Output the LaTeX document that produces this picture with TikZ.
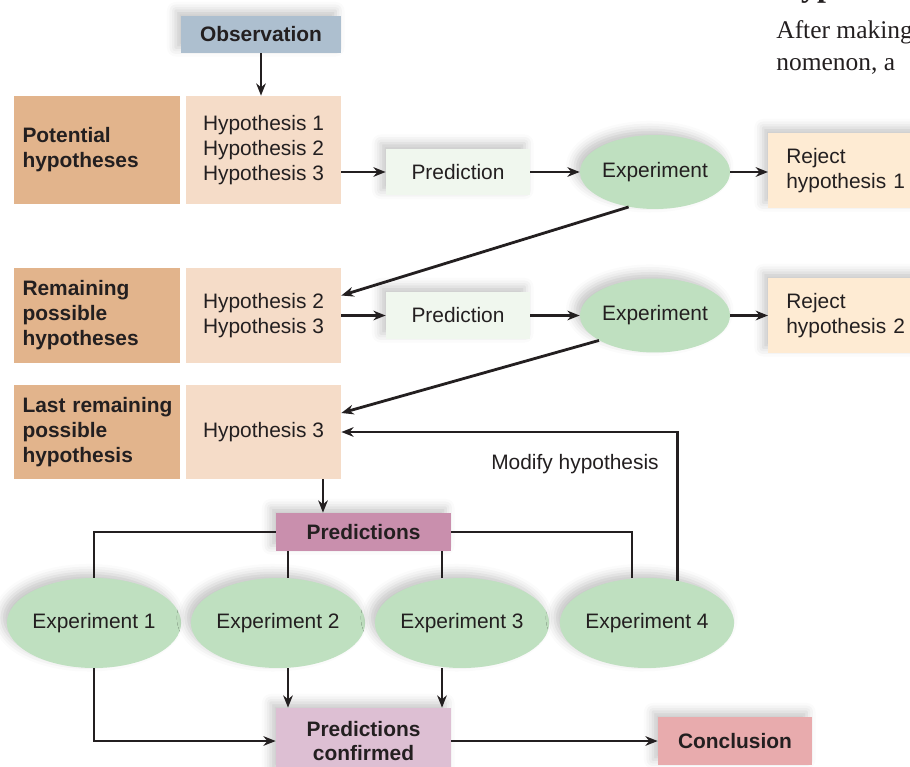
\documentclass[tikz,border=0pt]{standalone}
\usepackage{fontspec}
\setmainfont{Liberation Sans}
\newfontfamily\bookfont{Liberation Serif}
\usetikzlibrary{arrows.meta,shapes.geometric,shadows.blur,fit,backgrounds}

\definecolor{obsblue}{RGB}{173,191,207}
\definecolor{hyptan}{RGB}{226,180,140}
\definecolor{hyplight}{RGB}{245,220,200}
\definecolor{predgreen}{RGB}{240,247,238}
\definecolor{expgreen}{RGB}{191,224,192}
\definecolor{rejcream}{RGB}{254,235,211}
\definecolor{predpink}{RGB}{201,143,173}
\definecolor{confpink}{RGB}{221,191,211}
\definecolor{conclred}{RGB}{232,171,173}
\definecolor{ink}{RGB}{35,31,32}

\begin{document}
\begin{tikzpicture}[x=0.02cm,y=-0.02cm,
  every node/.style={font=\fontsize{11.9}{14.2}\selectfont,text=ink},
  shade/.style={blur shadow={shadow xshift=-3pt,shadow yshift=3pt,shadow blur radius=5pt,shadow opacity=22}},
  box/.style={rectangle,inner sep=0pt},
  heading/.style={box,font=\fontsize{11.9}{14.2}\selectfont\bfseries},
  stage/.style={heading,fill=hyptan,minimum width=3.32cm,text width=2.98cm,inner xsep=0.17cm,align=left},
  hyps/.style={box,fill=hyplight,minimum width=3.1cm,align=left},
  pair/.style={box,fill=white,shade},
  pred/.style={box,shade,fill=predgreen,minimum width=2.88cm,minimum height=0.94cm},
  trial/.style={ellipse,inner sep=0pt,fill=expgreen,shade},
  verdict/.style={box,shade,fill=rejcream,anchor=west,minimum height=1.5cm,text width=2.4cm,inner xsep=0.36cm,align=left},
  arrow/.style={-{Stealth[length=7pt,width=5.5pt]},line width=1.6pt,draw=ink},
  link/.style={line width=1.6pt,draw=ink}
]
  \useasboundingbox (0,0) rectangle (910,767);
  \clip (0,0) rectangle (910,767);

  \node[anchor=base west,inner sep=0pt,font=\bookfont\bfseries\fontsize{18.2}{20}\selectfont] (head) at (776,-3) {Hypothesis};
  \node[anchor=base west,inner sep=0pt,font=\bookfont\fontsize{14.5}{18}\selectfont] (para1) at (776,39) {After making};
  \node[anchor=base west,inner sep=0pt,font=\bookfont\fontsize{14.5}{18}\selectfont] (para2) at (776,71) {nomenon, a};

  \node[heading,shade,fill=obsblue,minimum width=3.2cm,minimum height=0.74cm] (obs) at (261,34.5) {Observation};

  \node[stage,minimum height=2.16cm] (s1) at (97,150) {Potential\\hypotheses};
  \node[hyps,minimum height=2.16cm] (h1) at (263.5,150) {Hypothesis 1\\Hypothesis 2\\Hypothesis 3};
  \node[pred] (p1) at (458,172) {Prediction};
  \node[trial,minimum width=3cm,minimum height=1.48cm] (e1) at (655,172) {Experiment};
  \node[verdict] (j1) at (768,170.5) {Reject\\hypothesis 1};

  \node[stage,minimum height=1.9cm] (s2) at (97,315.5) {Remaining\\possible\\hypotheses};
  \node[hyps,minimum height=1.9cm] (h2) at (263.5,315.5) {Hypothesis 2\\Hypothesis 3};
  \node[pred] (p2) at (458,315.5) {Prediction};
  \node[trial,minimum width=3cm,minimum height=1.48cm] (e2) at (655,315.5) {Experiment};
  \node[verdict] (j2) at (768,315.5) {Reject\\hypothesis 2};

  \node[stage,minimum height=1.88cm] (s3) at (97,432) {\mbox{Last remaining}\\possible\\hypothesis};
  \node[hyps,minimum height=1.88cm] (h3) at (263.5,432) {Hypothesis 3};
  \node (mod) at (575,464) {Modify hypothesis};

  \begin{scope}[on background layer]
    \node[pair,fit=(s1)(h1)] (g1) {};
    \node[pair,fit=(s2)(h2)] (g2) {};
    \node[pair,fit=(s3)(h3)] (g3) {};
  \end{scope}

  \node[heading,shade,fill=predpink,minimum width=3.5cm,minimum height=0.76cm] (ps) at (363.5,532) {Predictions};
  \node[trial,minimum width=3.48cm,minimum height=1.8cm] (x1) at (94,623) {Experiment 1};
  \node[trial,minimum width=3.48cm,minimum height=1.8cm] (x2) at (278,623) {Experiment 2};
  \node[trial,minimum width=3.48cm,minimum height=1.8cm] (x3) at (462,623) {Experiment 3};
  \node[trial,minimum width=3.48cm,minimum height=1.8cm] (x4) at (647,623) {Experiment 4};
  \node[heading,shade,fill=confpink,minimum width=3.5cm,minimum height=1.32cm,align=center] (pc) at (363.5,741) {Predictions\\confirmed};
  \node[heading,shade,fill=conclred,minimum width=3.08cm,minimum height=0.96cm] (cc) at (735,741) {Conclusion};

  \draw[arrow] (obs) -- (obs |- h1.north);
  \draw[arrow] (h1.east |- p1) -- (p1);
  \draw[arrow] (p1) -- (e1);
  \draw[arrow] (e1) -- (e1 -| j1.west);
  \draw[arrow] (e1.233) -- ([yshift=0.4cm]h2.east);
  \draw[arrow] (h2.east |- p2) -- (p2);
  \draw[arrow] (p2) -- (e2);
  \draw[arrow] (e2) -- (e2 -| j2.west);
  \draw[arrow] (e2.204) -- ([yshift=0.38cm]h3.east);
  \draw[arrow] (x4.54) |- (h3.east);
  \draw[arrow] ([xshift=1.19cm]h3.south) -- ([xshift=1.19cm]h3.south |- ps.north);

  \draw[link] (ps.west) -| (x1.north);
  \draw[link] (ps.east) -| ([xshift=-0.3cm]x4.north);
  \draw[link] ([xshift=0.2cm]x2.north) -- ([xshift=0.2cm]x2.north |- ps.south);
  \draw[link] ([xshift=-0.4cm]x3.north) -- ([xshift=-0.4cm]x3.north |- ps.south);

  \draw[arrow] ([xshift=0.2cm]x2.south) -- ([xshift=0.2cm]x2.south |- pc.north);
  \draw[arrow] ([xshift=-0.4cm]x3.south) -- ([xshift=-0.4cm]x3.south |- pc.north);
  \draw[arrow] (x1.south) |- (pc.west);
  \draw[arrow] (pc.east) -- (pc.east -| cc.west);
\end{tikzpicture}
\end{document}
